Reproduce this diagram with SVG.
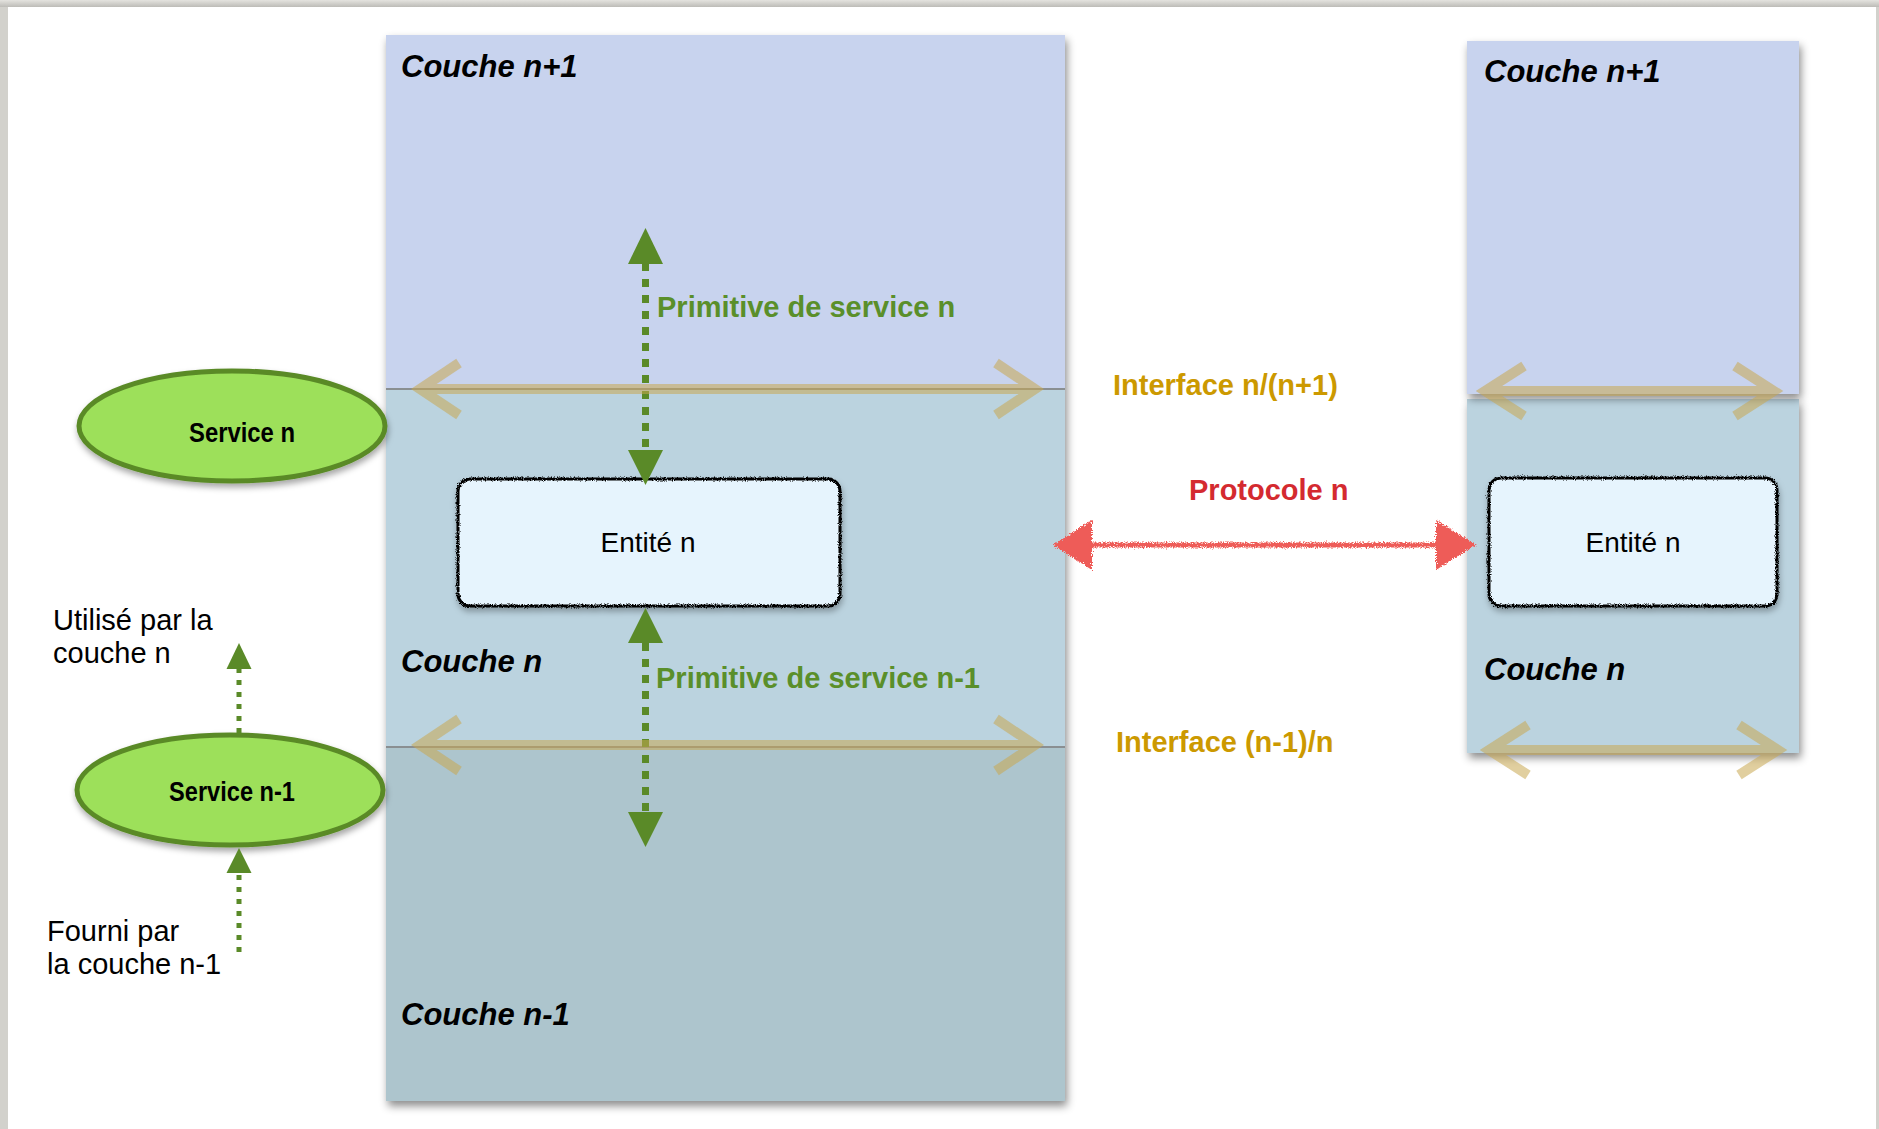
<svg xmlns="http://www.w3.org/2000/svg" width="1879" height="1129" viewBox="0 0 1879 1129">
  <defs>
    <style>
      .layer-title { font-family: "Liberation Sans", Arial, sans-serif; font-weight: bold; font-style: italic; font-size: 31px; fill: #000; }
      .prim { font-family: "Liberation Sans", Arial, sans-serif; font-weight: bold; font-size: 29px; fill: #5a8f2a; }
      .iface { font-family: "Liberation Sans", Arial, sans-serif; font-weight: bold; font-size: 29px; fill: #cc9900; }
      .proto { font-family: "Liberation Sans", Arial, sans-serif; font-weight: bold; font-size: 29px; fill: #d42a30; }
      .entity-text { font-family: "Liberation Sans", Arial, sans-serif; font-size: 28px; fill: #000; text-anchor: middle; }
      .service-text { font-family: "Liberation Sans", Arial, sans-serif; font-weight: bold; font-size: 28px; fill: #000; }
      .note { font-family: "Liberation Sans", Arial, sans-serif; font-size: 29px; fill: #000; }
      .entity-box { fill: #e6f4fd; stroke: #000; stroke-width: 3; }
      .ellipse { fill: #9de05a; stroke: #5a8a28; stroke-width: 5; }
      .green-dots { stroke: #5a8a28; stroke-width: 7; stroke-dasharray: 8 8; fill: none; }
      .green-dots-small { stroke: #5a8a28; stroke-width: 5; stroke-dasharray: 5 7; fill: none; }
      .green-head { fill: #5a8a28; }
      .iface-arrow { stroke: #c8a850; stroke-width: 10; fill: none; stroke-linejoin: miter; }
      .red-line { stroke: #ee5c58; stroke-width: 5; fill: none; }
      .red-head { fill: #ee5c58; }
      .boundary { stroke: #8a8f92; stroke-width: 2; }
    </style>
    <filter id="shadow" x="-10%" y="-10%" width="125%" height="125%">
      <feDropShadow dx="2" dy="5" stdDeviation="4" flood-color="#000" flood-opacity="0.45"/>
    </filter>
    <filter id="shadowSmall" x="-10%" y="-10%" width="125%" height="130%">
      <feDropShadow dx="1" dy="4" stdDeviation="3" flood-color="#000" flood-opacity="0.35"/>
    </filter>
    <filter id="rough" x="-5%" y="-20%" width="110%" height="140%">
      <feTurbulence type="fractalNoise" baseFrequency="1.1" numOctaves="2" seed="3" result="noise"/>
      <feDisplacementMap in="SourceGraphic" in2="noise" scale="4" xChannelSelector="R" yChannelSelector="G" result="d"/>
      <feDropShadow in="d" dx="1" dy="4" stdDeviation="3" flood-color="#000" flood-opacity="0.3"/>
    </filter>
    <filter id="roughRed" x="-5%" y="-50%" width="110%" height="200%">
      <feTurbulence type="fractalNoise" baseFrequency="0.9" numOctaves="3" seed="7" result="noise"/>
      <feDisplacementMap in="SourceGraphic" in2="noise" scale="6" xChannelSelector="R" yChannelSelector="G"/>
    </filter>
    <linearGradient id="topband" x1="0" y1="0" x2="0" y2="1">
      <stop offset="0" stop-color="#e4e3df"/>
      <stop offset="1" stop-color="#bdbcb7"/>
    </linearGradient>
  </defs>

  <!-- page frame -->
  <rect x="0" y="0" width="1879" height="1129" fill="#d2d1cc"/>
  <rect x="0" y="0" width="1879" height="7" fill="url(#topband)"/>
  <rect x="8" y="7" width="1868" height="1122" fill="#ffffff"/>

  <!-- Left stack of layers -->
  <g id="left-stack">
    <g filter="url(#shadow)">
      <rect x="386" y="35" width="679" height="1066" fill="#c8d3ee"/>
    </g>
    <rect id="left-couche-n1" x="386" y="35" width="679" height="354" fill="#c8d3ee"/>
    <rect id="left-couche-n" x="386" y="389" width="679" height="358" fill="#bbd3df"/>
    <rect id="left-couche-nm1" x="386" y="747" width="679" height="354" fill="#adc5cd"/>
    <line class="boundary" x1="386" y1="389" x2="1065" y2="389"/>
    <line class="boundary" x1="386" y1="747" x2="1065" y2="747"/>
    <text class="layer-title" x="401" y="77">Couche n+1</text>
    <text class="layer-title" x="401" y="672">Couche n</text>
    <text class="layer-title" x="401" y="1025">Couche n-1</text>
  </g>

  <!-- Right stack of layers -->
  <g id="right-stack">
    <rect id="right-couche-n" x="1467" y="399" width="332" height="354" fill="#bbd3df" filter="url(#shadow)"/>
    <rect id="right-couche-n1" x="1467" y="41" width="332" height="353" fill="#c8d3ee" filter="url(#shadow)"/>
    <text class="layer-title" x="1484" y="82">Couche n+1</text>
    <text class="layer-title" x="1484" y="680">Couche n</text>
  </g>

  <!-- Entities -->
  <g id="entity-left">
    <rect class="entity-box" x="458" y="479" width="382" height="127" rx="12" ry="12" filter="url(#rough)"/>
    <text class="entity-text" x="648" y="552">Entité n</text>
  </g>
  <g id="entity-right">
    <rect class="entity-box" x="1489" y="478" width="288" height="128" rx="12" ry="12" filter="url(#rough)"/>
    <text class="entity-text" x="1633" y="552">Entité n</text>
  </g>

  <!-- Services -->
  <g id="service-n">
    <ellipse class="ellipse" cx="232" cy="426" rx="153" ry="55" filter="url(#shadowSmall)"/>
    <text class="service-text" x="189" y="442" textLength="106" lengthAdjust="spacingAndGlyphs">Service n</text>
  </g>
  <g id="service-nm1">
    <ellipse class="ellipse" cx="230" cy="790" rx="153" ry="55" filter="url(#shadowSmall)"/>
    <text class="service-text" x="169" y="801" textLength="126" lengthAdjust="spacingAndGlyphs">Service n-1</text>
  </g>

  <!-- Notes -->
  <g id="note-utilise">
    <text class="note" x="53" y="630">Utilisé par la</text>
    <text class="note" x="53" y="663">couche n</text>
  </g>
  <g id="note-fourni">
    <text class="note" x="47" y="941">Fourni par</text>
    <text class="note" x="47" y="974">la couche n-1</text>
  </g>

  <!-- Connectors -->
  <g id="connectors">
    <!-- Primitive de service n -->
    <line class="green-dots" x1="645.5" y1="263" x2="645.5" y2="451"/>
    <polygon class="green-head" points="645.5,228 628,264 663,264"/>
    <polygon class="green-head" points="645.5,485 628,450 663,450"/>
    <!-- Primitive de service n-1 -->
    <line class="green-dots" x1="645.5" y1="643" x2="645.5" y2="812"/>
    <polygon class="green-head" points="645.5,608 628,643 663,643"/>
    <polygon class="green-head" points="645.5,847 628,812 663,812"/>

    <!-- Utilisé / Fourni arrows -->
    <line class="green-dots-small" x1="239" y1="733" x2="239" y2="668"/>
    <polygon class="green-head" points="239,643 226.5,669 251.5,669"/>
    <line class="green-dots-small" x1="239" y1="952" x2="239" y2="873"/>
    <polygon class="green-head" points="239,848 226.5,873 251.5,873"/>

    <!-- Interfaces (semi-transparent tan double arrows) -->
    <g opacity="0.55">
      <path class="iface-arrow" d="M420,389 H1035 M459,363 L420,389 L459,415 M996,363 L1035,389 L996,415"/>
      <path class="iface-arrow" d="M420,745 H1035 M459,719 L420,745 L459,771 M996,719 L1035,745 L996,771"/>
      <path class="iface-arrow" d="M1485,391 H1774 M1524,366 L1485,391 L1524,416 M1735,366 L1774,391 L1735,416"/>
      <path class="iface-arrow" d="M1489,750 H1778 M1528,725 L1489,750 L1528,775 M1739,725 L1778,750 L1739,775"/>
    </g>

    <!-- Protocole n -->
    <g filter="url(#roughRed)">
      <line class="red-line" x1="1088" y1="545" x2="1440" y2="545"/>
      <polygon class="red-head" points="1053,545 1092,520 1092,570"/>
      <polygon class="red-head" points="1476,545 1436,520 1436,570"/>
    </g>
  </g>

  <!-- Labels -->
  <text class="prim" x="657" y="317">Primitive de service n</text>
  <text class="prim" x="656" y="688">Primitive de service n-1</text>
  <text class="iface" x="1113" y="395">Interface n/(n+1)</text>
  <text class="iface" x="1116" y="752">Interface (n-1)/n</text>
  <text class="proto" x="1189" y="500">Protocole n</text>
</svg>
